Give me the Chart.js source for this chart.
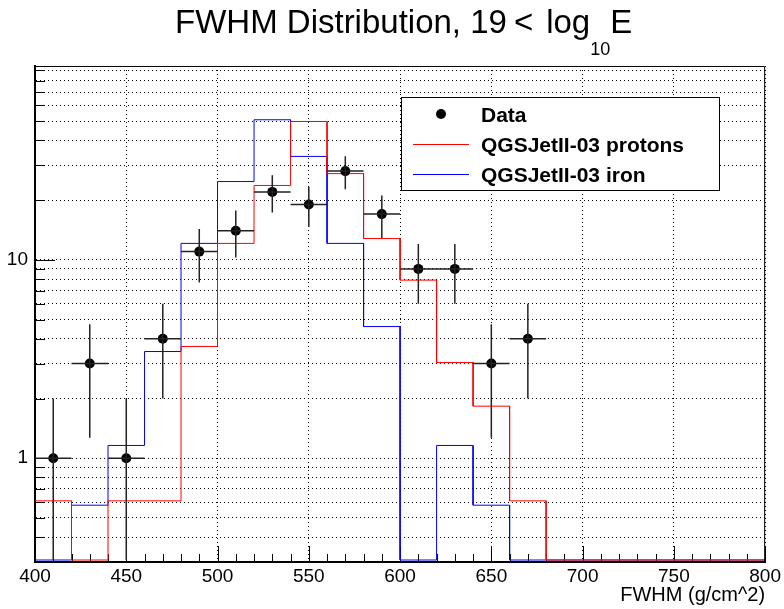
<!DOCTYPE html>
<html>
<head>
<meta charset="utf-8">
<title>FWHM Distribution</title>
<script src="https://cdn.jsdelivr.net/npm/chart.js@4.4.1/dist/chart.umd.min.js"></script>
<style>
  html, body { margin: 0; padding: 0; background: #fff; }
  canvas { display: block; }
</style>
</head>
<body>
<canvas id="chart" width="784" height="609"></canvas>
<script>
// measured points, one per 20 g/cm^2 bin
const dataX = [410, 430, 450, 470, 490, 510, 530, 550, 570, 590, 610, 630, 650, 670];
const dataY = [1, 3, 1, 4, 11, 14, 22, 19, 28, 17, 9, 9, 3, 4];
const dataErr = [1, 1.73, 1, 2, 3.32, 3.74, 4.69, 4.36, 5.29, 4.12, 3, 3, 1.73, 2];

// simulated histograms: low edge of every bin and its content
const binLow = [400, 420, 440, 460, 480, 500, 520, 540, 560, 580,
                600, 620, 640, 660, 680, 700, 720, 740, 760, 780];
const protons = [0.61, 0, 0.61, 0.61, 3.66, 12.1, 23.7, 49.8, 27.2, 12.8,
                 7.9, 3.04, 1.83, 0.61, 0, 0, 0, 0, 0, 0];
const iron = [0, 0.58, 1.16, 3.45, 12.1, 24.8, 50.8, 33.2, 12.1, 4.61,
              0, 1.16, 0.58, 0, 0, 0, 0, 0, 0, 0];

const xTicks = [400, 450, 500, 550, 600, 650, 700, 750, 800];
const yTicks = [0.4, 0.5, 0.6, 0.7, 0.8, 0.9, 1, 2, 3, 4, 5, 6, 7, 8, 9,
                10, 20, 30, 40, 50, 60, 70, 80, 90];
const yLabelled = [1, 10];

const binWidth = 20;
const yMin = 0.307;
const yMax = 94.8;
const FONT = '"Liberation Sans", Arial, Helvetica, sans-serif';

// empty bins sit on the bottom of the frame, like ROOT does on a log axis
function histPoints(values) {
    const pts = [];
    values.forEach((v, i) => {
        const y = v > 0 ? v : yMin;
        pts.push({ x: binLow[i], y: y });
        pts.push({ x: binLow[i] + binWidth, y: y });
    });
    return pts;
}

const rootStyle = {
    id: 'rootStyle',
    beforeDatasetsDraw(chart) {
        // ticks drawn inside the frame
        const { ctx, chartArea: ca, scales: { x, y } } = chart;
        ctx.save();
        ctx.strokeStyle = '#000';
        ctx.lineWidth = 1;
        ctx.beginPath();
        yTicks.forEach(v => {
            const py = Math.round(y.getPixelForValue(v)) + 0.5;
            const len = yLabelled.includes(v) ? 20 : 10;
            ctx.moveTo(ca.left, py);
            ctx.lineTo(ca.left + len, py);
        });
        const first = xTicks[0], last = xTicks[xTicks.length - 1];
        for (let v = first; v <= last; v += 10) {
            const px = Math.round(x.getPixelForValue(v)) + 0.5;
            const len = (v - first) % 50 === 0 ? 16 : 8;
            ctx.moveTo(px, ca.bottom);
            ctx.lineTo(px, ca.bottom - len);
        }
        ctx.stroke();
        ctx.restore();
    },
    afterDatasetsDraw(chart) {
        // error bars of the data points
        const { ctx, scales: { x, y } } = chart;
        ctx.save();
        ctx.strokeStyle = '#222';
        ctx.lineWidth = 1.5;
        ctx.beginPath();
        dataX.forEach((cx, i) => {
            const v = dataY[i], e = dataErr[i];
            const px = x.getPixelForValue(cx);
            const py = y.getPixelForValue(v);
            ctx.moveTo(px, y.getPixelForValue(Math.max(v - e, yMin)));
            ctx.lineTo(px, y.getPixelForValue(v + e));
            ctx.moveTo(x.getPixelForValue(cx - binWidth / 2), py);
            ctx.lineTo(x.getPixelForValue(cx + binWidth / 2), py);
        });
        ctx.stroke();
        ctx.restore();
    },
    afterDraw(chart) {
        const { ctx, chartArea: ca } = chart;
        ctx.save();

        // top and right sides of the frame
        ctx.strokeStyle = '#000';
        ctx.lineWidth = 1;
        ctx.beginPath();
        ctx.moveTo(ca.left, ca.top + 0.5);
        ctx.lineTo(ca.right - 0.5, ca.top + 0.5);
        ctx.lineTo(ca.right - 0.5, ca.bottom);
        ctx.stroke();

        // title, TLatex-like: "FWHM Distribution, 19 < log_{10}E"
        ctx.fillStyle = '#000';
        ctx.textBaseline = 'alphabetic';
        ctx.textAlign = 'left';
        const big = '33px ' + FONT, small = '18px ' + FONT;
        let tx = 175;
        ctx.font = big;
        ctx.fillText('FWHM Distribution, 19', tx, 33);
        tx += ctx.measureText('FWHM Distribution, 19').width + 7;
        ctx.fillText('<', tx, 33);
        tx += ctx.measureText('<').width + 13;
        ctx.fillText('log', tx, 33);
        tx += ctx.measureText('log').width;
        ctx.font = small;
        ctx.fillText('10', tx, 55);
        tx += ctx.measureText('10').width;
        ctx.font = big;
        ctx.fillText('E', tx, 33);

        // legend box
        const lx = 401, ly = 97, lw = 318, lh = 93;
        ctx.fillStyle = '#fff';
        ctx.fillRect(lx, ly, lw, lh);
        ctx.strokeStyle = '#000';
        ctx.lineWidth = 1;
        ctx.strokeRect(lx + 0.5, ly + 0.5, lw, lh);

        const rows = [ly + 17, ly + 47, ly + 77];
        ctx.fillStyle = '#000';
        ctx.beginPath();
        ctx.arc(lx + 40, rows[0], 5, 0, Math.PI * 2);
        ctx.fill();
        ctx.lineWidth = 1;
        ctx.strokeStyle = '#ff0000';
        ctx.beginPath();
        ctx.moveTo(lx + 12, rows[1] + 0.5);
        ctx.lineTo(lx + 68, rows[1] + 0.5);
        ctx.stroke();
        ctx.strokeStyle = '#0000ff';
        ctx.beginPath();
        ctx.moveTo(lx + 12, rows[2] + 0.5);
        ctx.lineTo(lx + 68, rows[2] + 0.5);
        ctx.stroke();

        ctx.font = 'bold 21px ' + FONT;
        ctx.fillStyle = '#000';
        const names = chart.data.datasets.map(d => d.label);
        names.forEach((n, i) => ctx.fillText(n, lx + 80, rows[i] + 8));

        ctx.restore();
    }
};

const ctx = document.getElementById('chart').getContext('2d');

new Chart(ctx, {
    type: 'scatter',
    data: {
        datasets: [
            {
                label: 'Data',
                data: dataX.map((x, i) => ({ x: x, y: dataY[i] })),
                pointRadius: 5,
                pointBackgroundColor: '#000',
                pointBorderWidth: 0,
                showLine: false
            },
            {
                label: 'QGSJetII-03 protons',
                type: 'line',
                data: histPoints(protons),
                borderColor: '#ff0000',
                borderWidth: 1,
                pointRadius: 0,
                fill: false,
                tension: 0
            },
            {
                label: 'QGSJetII-03 iron',
                type: 'line',
                data: histPoints(iron),
                borderColor: '#0000ff',
                borderWidth: 1,
                pointRadius: 0,
                fill: false,
                tension: 0
            }
        ]
    },
    options: {
        responsive: false,
        devicePixelRatio: 1,
        animation: false,
        layout: { padding: { top: 66, right: 18, left: 0, bottom: 0 } },
        plugins: {
            legend: { display: false },
            tooltip: { enabled: false }
        },
        scales: {
            x: {
                type: 'linear',
                min: 400,
                max: 800,
                afterBuildTicks: axis => { axis.ticks = xTicks.map(v => ({ value: v })); },
                afterFit: axis => { axis.height = 47; },
                ticks: {
                    autoSkip: false,
                    maxRotation: 0,
                    padding: 3,
                    color: '#000',
                    font: { family: FONT, size: 19 }
                },
                grid: { color: '#000', lineWidth: 1, drawTicks: false },
                border: { display: true, color: '#000', width: 2, dash: [1, 3] },
                title: {
                    display: true,
                    text: 'FWHM (g/cm^2)',
                    align: 'end',
                    color: '#000',
                    font: { family: FONT, size: 20 },
                    padding: { top: 0, bottom: 2 }
                }
            },
            y: {
                type: 'logarithmic',
                min: yMin,
                max: yMax,
                afterBuildTicks: axis => { axis.ticks = yTicks.map(v => ({ value: v })); },
                afterFit: axis => { axis.width = 35; },
                ticks: {
                    autoSkip: false,
                    padding: 7,
                    color: '#000',
                    font: { family: FONT, size: 19 },
                    callback: v => yLabelled.includes(v) ? String(v) : ''
                },
                grid: { color: '#000', lineWidth: 1, drawTicks: false },
                border: { display: true, color: '#000', width: 2, dash: [1, 3] }
            }
        }
    },
    plugins: [rootStyle]
});
</script>
</body>
</html>
